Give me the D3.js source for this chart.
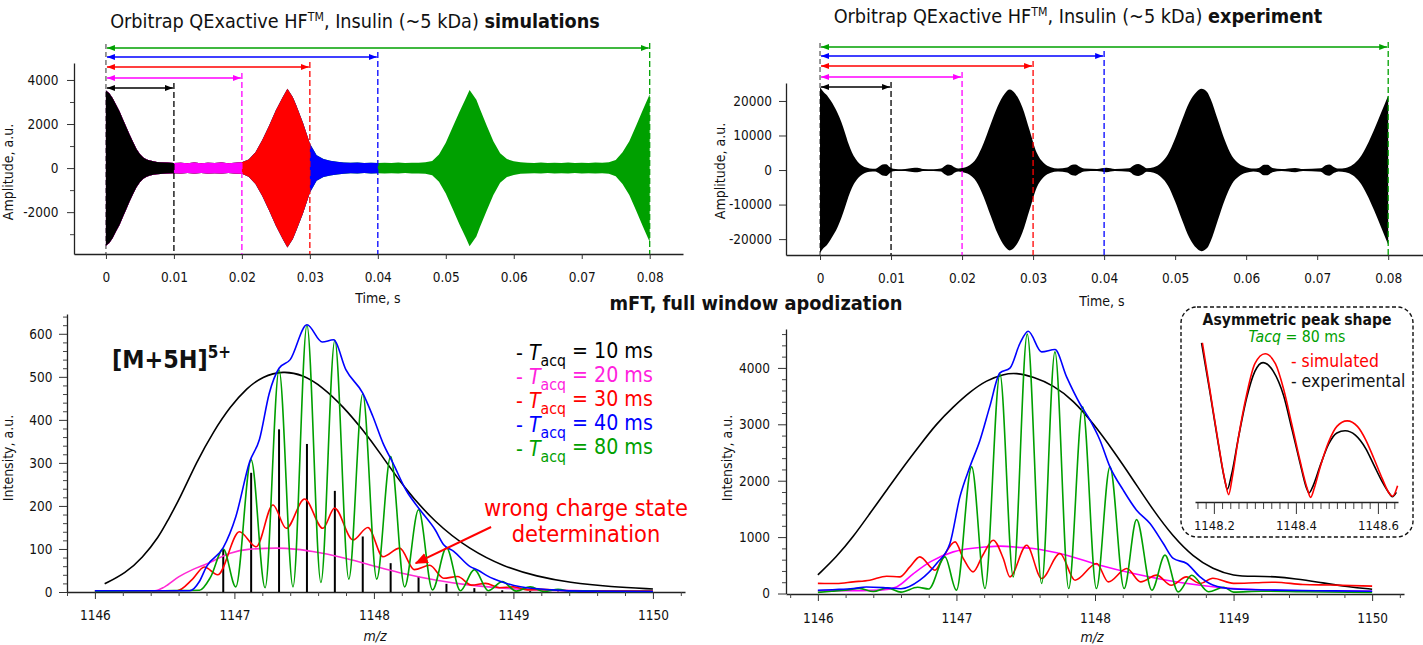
<!DOCTYPE html>
<html><head><meta charset="utf-8">
<script src="https://cdn.jsdelivr.net/npm/d3@7"></script>
<style>
body{margin:0;background:#fff}
svg text{font-family:"DejaVu Sans Condensed","DejaVu Sans",sans-serif}
</style></head>
<body><svg id="c" width="1423" height="645"></svg>
<script>
// ================= DATA =================
const timeTicks = [0,0.01,0.02,0.03,0.04,0.05,0.06,0.07,0.08];
const timeTickLabels = ["0","0.01","0.02","0.03","0.04","0.05","0.06","0.07","0.08"];
const simAmpTicks = [-2000,0,2000,4000];
const simAmpMinor = [-3000,-1000,1000,3000];
const expAmpTicks = [-20000,-10000,0,10000,20000];
const mzTicks = [1146,1147,1148,1149,1150];
const simIntTicks = [0,100,200,300,400,500,600];
const expIntTicks = [0,1000,2000,3000,4000];
const insetTicks = [1148.2,1148.4,1148.6];

const acqTimes = [0.01,0.02,0.03,0.04,0.08];
const acqLabels = ["10 ms","20 ms","30 ms","40 ms","80 ms"];

// simulated transient envelope (amplitude, a.u.)
const simT = [0,0.0005,0.001,0.0015,0.002,0.0025,0.003,0.0035,0.004,0.0045,0.005,0.0055,0.006,0.0065,0.007,0.0075,0.008,0.009,0.010,
  0.011,0.012,0.013,0.014,0.015,0.016,0.017,0.018,0.019,0.020,0.021,0.022,0.023,0.024,0.025,0.026,0.0267,0.0275,0.028,0.029,0.030,
  0.031,0.032,0.033,0.034,0.035,0.036,0.037,0.038,0.039,0.040,0.041,0.042,0.043,0.044,0.045,0.046,0.047,0.048,0.049,0.050,0.051,0.052,
  0.053,0.0535,0.0545,0.055,0.056,0.057,0.058,0.059,0.060,0.061,0.062,0.063,0.064,0.065,0.066,0.067,0.068,0.069,0.070,0.071,0.072,0.073,
  0.074,0.075,0.076,0.077,0.078,0.079,0.080];
const simAmp = [3520,3400,3170,2870,2580,2220,1870,1510,1180,870,640,480,390,340,305,280,265,248,235,
  245,225,250,222,245,230,250,225,242,262,390,720,1270,1920,2620,3220,3600,3220,2850,2050,1120,
  580,410,335,290,255,238,250,226,245,232,246,230,250,226,245,242,262,325,620,1150,1850,2550,
  3200,3550,3100,2700,1950,1220,670,410,310,262,244,230,250,226,245,230,250,226,245,230,250,240,
  262,370,720,1220,1920,2650,3350];

// experimental transient envelope (amplitude, a.u.)
const expT = [0,0.0005,0.001,0.0015,0.002,0.0025,0.003,0.0035,0.004,0.0045,0.005,0.0055,0.006,0.0065,0.007,0.0078,0.0082,0.0088,0.0093,
  0.0098,0.0103,0.011,0.012,0.013,0.0137,0.0145,0.016,0.017,0.0175,0.018,0.0185,0.019,0.0195,0.020,0.021,0.022,0.023,0.024,0.025,0.026,
  0.0267,0.0275,0.0285,0.0295,0.0305,0.0315,0.0325,0.0335,0.0348,0.0355,0.036,0.0365,0.0372,0.039,0.0403,0.0415,0.0435,0.0442,0.0448,
  0.0455,0.046,0.047,0.048,0.049,0.050,0.051,0.052,0.053,0.0537,0.0545,0.055,0.056,0.057,0.058,0.059,0.060,0.061,0.0618,0.0625,0.063,
  0.0637,0.065,0.0669,0.068,0.0705,0.0712,0.0717,0.0724,0.073,0.074,0.075,0.076,0.077,0.078,0.079,0.080];
const expAmp = [24000,22600,21600,20100,18400,16400,13900,10900,7700,5100,3300,2000,1200,700,460,390,800,1600,1700,
  900,360,260,310,560,660,310,260,410,1120,1620,1420,720,430,560,1320,3350,7600,13100,18400,22100,
  23300,22100,18100,11600,5100,2050,820,410,720,1520,1620,1020,410,310,660,310,510,1420,1720,
  1120,510,820,2050,4550,9100,14600,19600,22600,23500,22600,20600,14600,8600,4050,1820,820,410,620,1520,1520,
  620,310,620,310,510,1420,1620,820,410,620,1520,3550,7100,11600,16600,21600];

// mFT spectra, simulated (intensity, a.u.)
const sim10Mz = [1146.07,1146.22,1146.34,1146.46,1146.52,1146.61,1146.73,1146.85,1146.97,1147.09,1147.2,1147.35,1147.49,1147.63,1147.78,1147.92,1148.04,1148.21,1148.44,1148.69,1148.93,1149.17,1149.4,1149.7,1150];
const sim10Int = [19,44,79,129,165,218,303,373,431,474,501,514,505,477,431,377,325,245,160,98,59,36,22,12,7];
const sim20Mz = [1146.0,1146.43,1146.5,1146.6,1146.7,1146.8,1146.97,1147.1,1147.3,1147.45,1147.56,1147.8,1148.04,1148.21,1148.44,1148.69,1148.93,1149.17,1149.5,1150];
const sim20Int = [3,3,12,35,52,65,90,99,102,99,94,78,57,43,28,16,9,5,3,2];
const sim30Mz = [1146.0,1146.59,1146.7,1146.785,1146.88,1147.036,1147.156,1147.276,1147.372,1147.503,1147.634,1147.718,1147.85,1147.957,1148.065,1148.185,1148.29,1148.4,1148.5,1148.6,1148.7,1148.8,1148.9,1149.0,1149.1,1149.2,1149.4,1150];
const sim30Int = [2,3,30,58,40,140,105,202,148,216,148,195,121,150,82,102,52,62,32,36,16,20,10,12,5,6,3,2];
const sim40Mz = [1146.0,1146.68,1146.75,1146.8,1146.92,1147.01,1147.11,1147.18,1147.25,1147.32,1147.4,1147.52,1147.63,1147.71,1147.8,1147.92,1147.99,1148.065,1148.136,1148.23,1148.33,1148.44,1148.5,1148.57,1148.69,1148.75,1148.81,1148.93,1149.05,1149.28,1149.5,1150];
const sim40Int = [3,3,25,59,103,175,303,355,462,520,540,621,581,586,516,462,410,346,300,237,191,144,110,95,59,50,38,22,12,5,2,1];
const sim80Mz = [1146.0,1146.5,1146.75,1146.83,1146.92,1147.01,1147.12,1147.22,1147.32,1147.42,1147.52,1147.62,1147.72,1147.82,1147.92,1148.02,1148.12,1148.22,1148.32,1148.42,1148.52,1148.62,1148.72,1148.82,1148.92,1149.02,1149.12,1149.22,1149.32,1149.42,1149.52,1149.62,1150];
const sim80Int = [2,3,4,35,100,12,307,10,516,12,620,22,585,30,460,30,315,12,191,5,103,3,52,3,24,2,12,1,6,1,3,1,1];
const stickMz = [1146.92,1147.12,1147.32,1147.52,1147.72,1147.92,1148.12,1148.32,1148.52,1148.72,1148.92,1149.12,1149.32];
const stickInt = [99,277,378,344,235,129,67,36,19,9,4,2,1];

// mFT spectra, experimental (intensity, a.u.)
const exp10Mz = [1146.0,1146.135,1146.255,1146.375,1146.496,1146.616,1146.736,1146.857,1146.977,1147.097,1147.218,1147.338,1147.43,1147.555,1147.7,1147.843,1147.988,1148.13,1148.277,1148.42,1148.565,1148.71,1148.85,1149.0,1149.15,1149.3,1149.45,1149.6,1149.83,1150];
const exp10Int = [330,650,1004,1418,1832,2245,2630,3014,3309,3575,3782,3888,3915,3841,3693,3427,3014,2541,2009,1477,1004,649,430,310,305,300,260,206,117,76];
const exp20Mz = [1146.0,1146.2,1146.45,1146.568,1146.69,1146.81,1146.977,1147.218,1147.314,1147.458,1147.555,1147.795,1148.036,1148.277,1148.517,1148.758,1149.0,1149.5,1150];
const exp20Int = [50,50,60,117,354,561,738,827,840,817,797,679,502,354,236,147,90,50,40];
const exp30Mz = [1146.0,1146.135,1146.255,1146.375,1146.496,1146.59,1146.664,1146.736,1146.845,1146.905,1146.99,1147.05,1147.12,1147.19,1147.266,1147.338,1147.386,1147.507,1147.615,1147.747,1147.856,1148.012,1148.096,1148.229,1148.33,1148.445,1148.55,1148.66,1148.758,1148.85,1149.0,1149.16,1149.3,1149.5,1149.7,1150];
const exp30Int = [180,177,206,236,307,295,472,650,413,650,915,620,384,679,945,620,295,856,266,709,236,532,206,443,206,325,147,295,177,270,180,190,200,160,150,130];
const exp40Mz = [1146.0,1146.13,1146.255,1146.35,1146.5,1146.6,1146.736,1146.857,1146.953,1147.025,1147.097,1147.17,1147.24,1147.314,1147.386,1147.458,1147.518,1147.615,1147.711,1147.795,1147.89,1147.964,1148.036,1148.108,1148.204,1148.3,1148.397,1148.493,1148.565,1148.662,1148.758,1148.85,1149.0,1149.3,1149.6,1150];
const exp40Int = [58,70,88,115,100,85,236,532,887,1713,2245,2718,3309,3911,3995,4433,4650,4284,4326,3841,3369,3073,2718,2245,1832,1477,1241,887,621,532,295,150,80,60,50,40];
const exp80Mz = [1146.0,1146.1,1146.2,1146.3,1146.4,1146.5,1146.6,1146.72,1146.8,1146.917,1147.0,1147.11,1147.206,1147.314,1147.41,1147.511,1147.615,1147.711,1147.81,1147.911,1148.01,1148.108,1148.21,1148.3,1148.41,1148.505,1148.6,1148.698,1148.82,1148.93,1149.0,1149.2,1149.5,1150];
const exp80Int = [20,40,60,90,35,100,25,110,80,650,58,2245,88,3890,295,4600,177,4284,88,3309,88,2245,88,1310,58,680,29,324,30,110,25,40,30,20];

// inset: asymmetric peak shape, Tacq = 80 ms
const insSimMz = [1148.172,1148.19,1148.21,1148.228,1148.236,1148.245,1148.26,1148.28,1148.3,1148.325,1148.35,1148.37,1148.39,1148.41,1148.428,1148.436,1148.445,1148.46,1148.48,1148.5,1148.525,1148.55,1148.57,1148.59,1148.61,1148.628,1148.636,1148.648];
const insSimInt = [1420,1000,530,150,40,200,560,950,1230,1320,1230,1000,680,350,90,15,100,300,520,660,710,660,540,370,190,50,25,120];
const insExpMz = [1148.17,1148.19,1148.21,1148.225,1148.233,1148.243,1148.26,1148.28,1148.3,1148.32,1148.345,1148.37,1148.39,1148.41,1148.425,1148.432,1148.442,1148.46,1148.48,1148.5,1148.52,1148.545,1148.57,1148.59,1148.61,1148.628,1148.635,1148.645];
const insExpInt = [1420,980,520,200,90,220,560,920,1160,1240,1160,940,640,330,110,55,120,310,500,600,620,580,460,310,160,50,20,60];

// ================= STYLE =================
const acqColors = ["#000000","#ff00ff","#ff0000","#0000ff","#00a000"];
const specMagenta = "#ff2ad4";
const FONT = '"DejaVu Sans Condensed","DejaVu Sans",sans-serif';
const TICK_FS = 13.5;
const svg = d3.select("#c");
const hyphenInt = d => String(Math.round(d));   // plain hyphen-minus like the original

// arrow markers
const defs = svg.append("defs");
acqColors.forEach((c,i)=>{
  defs.append("marker").attr("id","ah"+i).attr("viewBox","0 0 8 6").attr("refX",8).attr("refY",3)
    .attr("markerWidth",8).attr("markerHeight",6).attr("markerUnits","userSpaceOnUse")
    .attr("orient","auto-start-reverse")
    .append("path").attr("d","M0,0L8,3L0,6z").attr("fill",c);
});
defs.append("marker").attr("id","bigred").attr("viewBox","0 0 12 10").attr("refX",11).attr("refY",5)
  .attr("markerWidth",13).attr("markerHeight",11).attr("markerUnits","userSpaceOnUse").attr("orient","auto")
  .append("path").attr("d","M0,0L12,5L0,10z").attr("fill","#ff0000");

function styleAxis(g, fs){
  g.attr("font-family",FONT).attr("font-size",fs);
  g.selectAll("path.domain").attr("stroke","#222").attr("stroke-width",1.3);
  g.selectAll(".tick line").attr("stroke","#333");
  g.selectAll("text").attr("fill","#111");
}
function drawAxes(o){
  const gx = svg.append("g").attr("transform",`translate(0,${o.axisY})`);
  if(o.xMinor){
    svg.append("g").attr("transform",`translate(0,${o.axisY})`)
      .call(d3.axisBottom(o.x).tickValues(o.xMinor).tickFormat("").tickSize(o.xMinorSize||4).tickSizeOuter(0))
      .call(g=>{g.select(".domain").remove(); g.selectAll("line").attr("stroke","#444");});
  }
  gx.call(d3.axisBottom(o.x).tickValues(o.xTicks).tickFormat((d,i)=>o.xLabels[i]).tickSize(o.xTickSize).tickPadding(o.xPad).tickSizeOuter(0));
  styleAxis(gx, o.fs);
  if(o.y){
    const gy = svg.append("g").attr("transform",`translate(${o.axisX},0)`);
    if(o.yMinor){
      svg.append("g").attr("transform",`translate(${o.axisX},0)`)
        .call(d3.axisLeft(o.y).tickValues(o.yMinor).tickFormat("").tickSize(4).tickSizeOuter(0))
        .call(g=>{g.select(".domain").remove(); g.selectAll("line").attr("stroke","#444");});
    }
    gy.call(d3.axisLeft(o.y).tickValues(o.yTicks).tickFormat(hyphenInt).tickSize(o.yTickSize).tickPadding(o.yPad).tickSizeOuter(0));
    styleAxis(gy, o.fs);
  }
}
function fit(sel, target){
  const w = sel.node().getBBox().width;
  const fs = parseFloat(sel.attr("font-size"));
  sel.attr("font-size", fs*target/w);
  return fs*target/w;
}
function label(x,y,txt,opts={}){
  const t = svg.append("text").attr("x",x).attr("y",y).attr("font-size",opts.fs||13)
    .attr("text-anchor",opts.anchor||"middle").attr("fill",opts.fill||"#111").text(txt);
  if(opts.rot) t.attr("transform",`rotate(-90,${x},${y})`);
  if(opts.italic) t.attr("font-style","italic");
  if(opts.bold) t.attr("font-weight","bold");
  return t;
}
function title(cx, y, boldWord, target){
  const t = svg.append("text").attr("x",cx).attr("y",y).attr("font-size",17).attr("text-anchor","middle").attr("fill","#111");
  t.append("tspan").text("Orbitrap QExactive HF");
  t.append("tspan").attr("font-size","0.62em").attr("dy","-0.55em").text("TM");
  t.append("tspan").attr("dy","0.34em").text(", Insulin (~5 kDa) ");
  t.append("tspan").attr("font-weight","bold").text(boldWord);
  fit(t, target);
}

// ================= TOP PANELS (transients) =================
function transientPanel(cfg){
  const x = d3.scaleLinear().domain(cfg.xDom).range(cfg.xRange);
  const y = d3.scaleLinear().domain(cfg.yDom).range(cfg.yRange);
  const data = cfg.t.map((t,i)=>({t, a: cfg.a[i]}));
  const area = d3.area().x(d=>x(d.t)).y0(d=>y(-d.a)).y1(d=>y(d.a)).curve(cfg.curve);
  svg.append("line").attr("x1",x(0)).attr("x2",x(0)).attr("y1",cfg.arrowY[4]-4).attr("y2",cfg.xRangeY)
    .attr("stroke","#555").attr("stroke-width",1.2).attr("stroke-dasharray","5,3");
  if(cfg.layered){
    [4,3,2,1,0].forEach(k=>{
      svg.append("path").datum(data.filter(d=>d.t<=acqTimes[k]+1e-9)).attr("d",area).attr("fill",acqColors[k]);
    });
  } else {
    svg.append("path").datum(data).attr("d",area).attr("fill","#000");
  }
  drawAxes({x, axisY: cfg.xRangeY, xTicks: timeTicks, xLabels: timeTickLabels, xTickSize:5, xPad: 13.5, fs: TICK_FS,
    y, axisX: cfg.xRange[0], yTicks: cfg.yTicks, yMinor: cfg.yMinor, yTickSize: 7, yPad: cfg.yPad});
  acqTimes.forEach((t,k)=>{
    svg.append("line").attr("x1",x(t)).attr("x2",x(t)).attr("y1",cfg.arrowY[k]-5).attr("y2",cfg.xRangeY)
      .attr("stroke",acqColors[k]).attr("stroke-width",1.3).attr("stroke-dasharray","6,3");
    svg.append("line").attr("x1",x(0)+1).attr("x2",x(t)-1).attr("y1",cfg.arrowY[k]).attr("y2",cfg.arrowY[k])
      .attr("stroke",acqColors[k]).attr("stroke-width",1.5)
      .attr("marker-start",`url(#ah${k})`).attr("marker-end",`url(#ah${k})`);
  });
  return {x,y};
}

transientPanel({t: simT, a: simAmp, xDom:[-0.0047,0.0849], xRange:[74,683], yDom:[-3900,4770], yRange:[254,63], xRangeY:254,
  yTicks: simAmpTicks, yMinor: simAmpMinor, yPad: 8.5, arrowY:[88,78,67,57,48], layered:true, curve: d3.curveLinear});
transientPanel({t: expT, a: expAmp, xDom:[-0.00479,0.0849], xRange:[786,1423], yDom:[-24600,25200], yRange:[255,83], xRangeY:255,
  yTicks: expAmpTicks, yMinor: null, yPad: 7, arrowY:[87,77,66,56,47], layered:false, curve: d3.curveMonotoneX});

title(355, 28, "simulations", 490);
title(1078, 23, "experiment", 489);
label(13, 172, "Amplitude, a.u.", {rot:true, fs:14});
label(725, 171, "Amplitude, a.u.", {rot:true, fs:14});
label(378, 303, "Time, s", {fs:14});
label(1102, 306, "Time, s", {fs:14});
const mft = label(756, 310, "mFT, full window apodization", {fs:16, bold:true});
fit(mft, 293);

// ================= BOTTOM PANELS (spectra) =================
function mzMinor(){ const a=[]; for(let i=0;i<=21;i++){ const v=1146+i*0.2; if(Math.abs(v-Math.round(v))>1e-6) a.push(+v.toFixed(1)); } a.unshift(1145.8); return a; }
function spectrum(x,y,mz,val,color,curve,w){
  const line = d3.line().x((d,i)=>x(mz[i])).y(d=>y(d)).curve(curve);
  svg.append("path").datum(val).attr("d",line).attr("fill","none").attr("stroke",color).attr("stroke-width",w||1.6).attr("stroke-linejoin","round");
}

// --- bottom-left (simulations)
{
  const x = d3.scaleLinear().domain([1145.8,1150.23]).range([67,685]);
  const y = d3.scaleLinear().domain([0,646]).range([592,314]);
  const yMinor = d3.range(0,641,20).filter(v=>v%100!==0);
  drawAxes({x, axisY:592, xTicks: mzTicks, xLabels: mzTicks.map(String), xMinor: mzMinor(), xTickSize:7, xPad:11.5, fs:TICK_FS,
    y, axisX:67, yTicks: simIntTicks, yMinor, yTickSize:8, yPad:6.5});
  svg.append("g").selectAll("line").data(stickMz).join("line")
    .attr("x1",d=>x(d)).attr("x2",d=>x(d)).attr("y1",y(0)).attr("y2",(d,i)=>y(stickInt[i]))
    .attr("stroke","#000").attr("stroke-width",2);
  spectrum(x,y,sim10Mz,sim10Int,"#000",d3.curveBasis);
  spectrum(x,y,sim20Mz,sim20Int,specMagenta,d3.curveMonotoneX);
  spectrum(x,y,sim30Mz,sim30Int,"#ff0000",d3.curveMonotoneX);
  spectrum(x,y,sim80Mz,sim80Int,acqColors[4],d3.curveMonotoneX);
  spectrum(x,y,sim40Mz,sim40Int,"#0000ff",d3.curveMonotoneX);
  label(13, 458, "Intensity, a.u.", {rot:true, fs:14});
  label(375, 641, "m/z", {fs:14, italic:true});
  const ion = svg.append("text").attr("x",112).attr("y",368).attr("font-size",21).attr("font-weight","bold").attr("fill","#111");
  ion.append("tspan").text("[M+5H]");
  ion.append("tspan").attr("font-size","0.68em").attr("dy","-0.62em").text("5+");
  fit(ion, 119);
  let lfs = 19;
  acqLabels.forEach((lab,i)=>{
    const t = svg.append("text").attr("x",516).attr("y",360+i*24).attr("font-size",lfs).attr("fill",i===1?"#ff22dd":acqColors[i]);
    t.append("tspan").text("- ");
    t.append("tspan").attr("font-style","italic").text("T");
    t.append("tspan").attr("font-size","0.74em").attr("dy","0.36em").text("acq");
    t.append("tspan").attr("dy","-0.36em").text(" = "+lab);
    if(i===0) lfs = fit(t, 137); else t.attr("font-size", lfs);
  });
  const w1 = label(586, 516, "wrong charge state", {fs:20, fill:"#ff0000"});
  const f = fit(w1, 204);
  label(586, 542, "determination", {fs:f, fill:"#ff0000"});
  svg.append("line").attr("x1",x(1148.84)).attr("y1",y(151)).attr("x2",x(1148.3)).attr("y2",y(67))
    .attr("stroke","#ff0000").attr("stroke-width",2).attr("marker-end","url(#bigred)");
}

// --- bottom-right (experiment)
{
  const x = d3.scaleLinear().domain([1145.77,1150.23]).range([786,1404]);
  const y = d3.scaleLinear().domain([0,4690]).range([593.5,329]);
  const yMinor = d3.range(0,4601,200).filter(v=>v%1000!==0);
  const xm = []; for(let i=-1;i<=21;i++){ const v=+(1146+i*0.2).toFixed(1); if(v%1!==0 && v<=1150.2) xm.push(v);} 
  drawAxes({x, axisY:594, xTicks: mzTicks, xLabels: mzTicks.map(String), xMinor: xm, xTickSize:7, xPad:12, fs:TICK_FS,
    y, axisX:786, yTicks: expIntTicks, yMinor, yTickSize:8, yPad:8});
  spectrum(x,y,exp10Mz,exp10Int,"#000",d3.curveBasis);
  spectrum(x,y,exp20Mz,exp20Int,"#ff00ff",d3.curveMonotoneX);
  spectrum(x,y,exp30Mz,exp30Int,"#ff0000",d3.curveMonotoneX);
  spectrum(x,y,exp80Mz,exp80Int,acqColors[4],d3.curveMonotoneX);
  spectrum(x,y,exp40Mz,exp40Int,"#0000ff",d3.curveMonotoneX);
  label(732, 458, "Intensity, a.u.", {rot:true, fs:14});
  label(1092, 642, "m/z", {fs:14, italic:true});
}

// --- inset
{
  svg.append("rect").attr("x",1181).attr("y",307).attr("width",232).attr("height",230).attr("rx",16)
    .attr("fill","#fff").attr("stroke","#111").attr("stroke-width",1.4).attr("stroke-dasharray","4,2.5");
  const x = d3.scaleLinear().domain([1148.154,1148.649]).range([1195,1398]);
  const y = d3.scaleLinear().domain([0,1450]).range([499,339.5]);
  const minor = d3.range(0,25).map(i=>+(1148.16+i*0.02).toFixed(2)).filter(v=>v<=1148.64 && ![1148.2,1148.4,1148.6].includes(v));
  const g1 = svg.append("g").attr("transform","translate(0,502)")
    .call(d3.axisBottom(x).tickValues(minor).tickFormat("").tickSize(7).tickSizeOuter(0));
  g1.select(".domain").remove(); g1.selectAll("line").attr("stroke","#444");
  const g2 = svg.append("g").attr("transform","translate(0,502)")
    .call(d3.axisBottom(x).tickValues(insetTicks).tickFormat(d3.format(".1f")).tickSize(12).tickSizeOuter(0).tickPadding(-2));
  g2.selectAll("text").attr("dy","1.35em");
  styleAxis(g2, 13);
  spectrum(x,y,insExpMz,insExpInt,"#000",d3.curveMonotoneX,1.6);
  spectrum(x,y,insSimMz,insSimInt,"#ff0000",d3.curveMonotoneX,1.6);
  const it = label(1297, 325, "Asymmetric peak shape", {fs:14, bold:true});
  fit(it, 189);
  const tq = svg.append("text").attr("x",1297).attr("y",342).attr("text-anchor","middle").attr("font-size",15).attr("fill",acqColors[4]);
  tq.append("tspan").attr("font-style","italic").text("Tacq");
  tq.append("tspan").text(" = 80 ms");
  fit(tq, 97);
  const s1 = label(1291, 367, "- simulated", {fs:16, anchor:"start", fill:"#ff0000"});
  const ff = fit(s1, 88);
  label(1291, 387, "- experimental", {fs:ff, anchor:"start", fill:"#111"});
}
</script></body></html>
